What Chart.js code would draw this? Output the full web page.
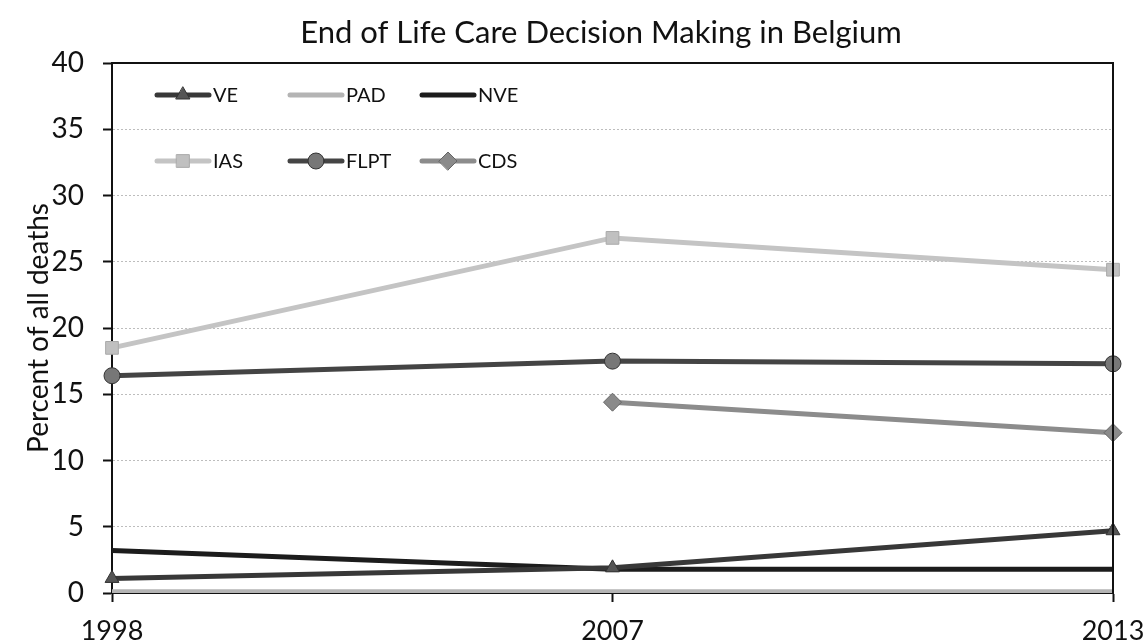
<!DOCTYPE html>
<html>
<head>
<meta charset="utf-8">
<title>End of Life Care Decision Making in Belgium</title>
<script src="https://cdn.jsdelivr.net/npm/chart.js@4"></script>
<style>
  html, body { margin: 0; padding: 0; background: #fff; }
  #wrap { width: 1143px; height: 644px; }
</style>
</head>
<body>
<div id="wrap"><canvas id="myChart" width="1143" height="644"></canvas></div>
<script>
const years = ["1998", "2007", "2013"];
const ve = [1.1, 1.9, 4.7];
const pad = [0.1, 0.1, 0.1];
const nve = [3.2, 1.8, 1.8];
const ias = [18.5, 26.8, 24.4];
const flpt = [16.4, 17.5, 17.3];
const cds = [null, 14.4, 12.1];
const yMax = 40;
const yStep = 5;
const chartTitle = "End of Life Care Decision Making in Belgium";
const yTitle = "Percent of all deaths";

const FONT = "Lato, 'Open Sans', sans-serif";
const ctx = document.getElementById("myChart");

function series(label, data, line, marker, style, rad) {
  return {
    label: label,
    data: data,
    borderColor: line,
    backgroundColor: marker,
    pointBackgroundColor: marker,
    pointBorderColor: "#333",
    pointBorderWidth: 1,
    pointStyle: style,
    pointRadius: rad,
    borderWidth: 5,
    tension: 0,
    spanGaps: false,
  };
}

const datasets = [
  series("VE", ve, "#383838", "#555", "triangle", 8),
  series("PAD", pad, "#b4b4b4", "#b4b4b4", "circle", 0),
  series("NVE", nve, "#1c1c1c", "#1c1c1c", "circle", 0),
  series("IAS", ias, "#c4c4c4", "#c0c0c0", "rect", 9),
  series("FLPT", flpt, "#444", "#777", "circle", 8),
  series("CDS", cds, "#8c8c8c", "#8a8a8a", "rectRot", 9),
];
datasets[3].pointBorderColor = "#aaa";
datasets[5].pointBorderColor = "#666";

// title, plot border and the two-row legend inside the plot area
const decor = {
  id: "decor",
  afterDraw(chart) {
    const c = chart.ctx;
    const a = chart.chartArea;
    c.save();
    c.fillStyle = "#111";
    c.font = "31px " + FONT;
    c.textAlign = "center";
    c.textBaseline = "middle";
    c.fillText(chartTitle, 601, 33);

    c.strokeStyle = "#111";
    c.lineWidth = 2;
    c.beginPath();
    c.moveTo(a.left, a.top);
    c.lineTo(a.right, a.top);
    c.lineTo(a.right, a.bottom);
    c.stroke();

    const cols = [157, 290, 422];
    const rows = [95, 161];
    c.font = "20px " + FONT;
    c.textAlign = "left";
    chart.data.datasets.forEach((ds, i) => {
      const x = cols[i % 3];
      const y = rows[Math.floor(i / 3)];
      c.strokeStyle = ds.borderColor;
      c.lineWidth = 5;
      c.lineCap = "round";
      c.beginPath();
      c.moveTo(x, y);
      c.lineTo(x + 52, y);
      c.stroke();
      if (ds.pointRadius > 0) {
        c.fillStyle = ds.pointBackgroundColor;
        c.strokeStyle = ds.pointBorderColor;
        c.lineWidth = 1;
        Chart.helpers.drawPoint(c, {
          pointStyle: ds.pointStyle,
          radius: ds.pointRadius,
          borderWidth: 1,
          rotation: 0,
        }, x + 26, y);
      }
      c.fillStyle = "#111";
      c.fillText(ds.label, x + 56, y + 1);
    });
    c.restore();
  },
};

new Chart(ctx, {
  type: "line",
  data: { labels: years, datasets: datasets },
  options: {
    responsive: false,
    animation: false,
    layout: { padding: { top: 63, right: 0, left: 0, bottom: 0 } },
    plugins: {
      legend: { display: false },
      title: { display: false },
      tooltip: { enabled: false },
    },
    scales: {
      x: {
        offset: false,
        grid: { display: true, drawOnChartArea: false, tickLength: 9, tickColor: "#111", tickWidth: 2 },
        border: { display: true, color: "#111", width: 2 },
        ticks: { color: "#111", font: { family: FONT, size: 27 }, padding: 13, maxRotation: 0 },
        afterFit(scale) {
          scale.height = 51;
          scale.paddingLeft = 0;
          scale.paddingRight = 30;
        },
      },
      y: {
        min: 0,
        max: yMax,
        ticks: { stepSize: yStep, color: "#111", font: { family: FONT, size: 28 }, padding: 19 },
        grid: { color: "#bdbdbd", lineWidth: 1, tickLength: 9, tickColor: "#111", tickWidth: 2 },
        border: { display: true, color: "#111", width: 2, dash: [2, 2] },
        title: { display: true, text: yTitle, color: "#111", font: { family: FONT, size: 28 }, padding: { top: 22 } },
        afterFit(scale) { scale.width = 112; },
      },
    },
  },
  plugins: [decor],
});
</script>
</body>
</html>
